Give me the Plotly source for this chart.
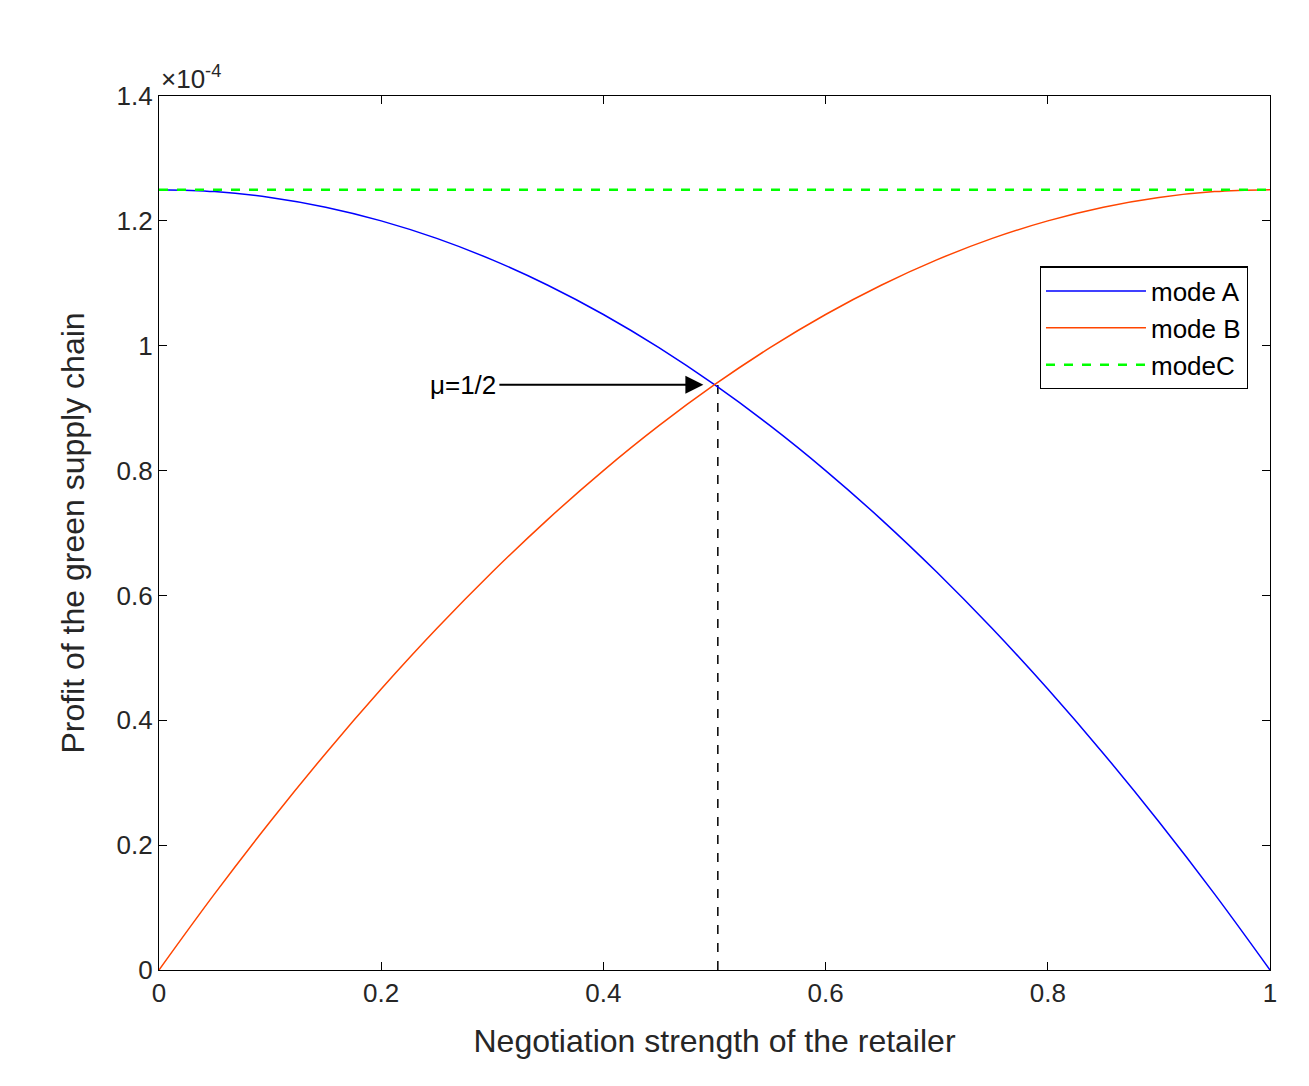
import plotly.graph_objects as go

x = [0,0.05,0.1,0.15,0.2,0.25,0.3,0.35,0.4,0.45,0.5,0.55,0.6,0.65,0.7,0.75,0.8,0.85,0.9,0.95,1.0]
mode_a = [1.25,1.2469,1.2375,1.2219,1.2,1.1719,1.1375,1.0969,1.05,0.9969,0.9375,0.8719,0.8,0.7219,0.6375,0.5469,0.45,0.3469,0.2375,0.1219,0]
mode_b = list(reversed(mode_a))
mode_c = [1.25]*len(x)
xticks = [0,0.2,0.4,0.6,0.8,1]
yticks = [0,0.2,0.4,0.6,0.8,1,1.2,1.4]

fig = go.Figure()
fig.add_trace(go.Scatter(x=[0.503,0.503], y=[0,0.9375], mode="lines",
    line=dict(color="black", width=1.5, dash="dash"), showlegend=False))
fig.add_trace(go.Scatter(x=x, y=mode_a, mode="lines", name="mode A", line=dict(color="#0000ff", width=1.5, shape="spline")))
fig.add_trace(go.Scatter(x=x, y=mode_b, mode="lines", name="mode B", line=dict(color="#ff4500", width=1.5, shape="spline")))
fig.add_trace(go.Scatter(x=x, y=mode_c, mode="lines", name="modeC", line=dict(color="#00ff00", width=2.5, dash="dash")))

axis = dict(showgrid=False, zeroline=False, showline=True, linecolor="black", linewidth=1.2,
            mirror="ticks", ticks="inside", ticklen=8, tickcolor="black",
            tickfont=dict(size=26, color="#262626"))
fig.update_layout(
    width=1309, height=1086, plot_bgcolor="white", paper_bgcolor="white",
    font=dict(family="Liberation Sans, Arial", color="#262626"),
    margin=dict(l=151, r=47, t=88, b=124),
    xaxis=dict(axis, range=[0,1], tickvals=xticks, ticktext=[f"{v:g}" for v in xticks],
               title=dict(text="Negotiation strength of the retailer", font=dict(size=32), standoff=22)),
    yaxis=dict(axis, range=[0,1.4], tickvals=yticks, ticktext=[f"{v:g}" for v in yticks],
               title=dict(text="Profit of the green supply chain", font=dict(size=32), standoff=22)),
    legend=dict(x=0.98, y=0.805, xanchor="right", yanchor="top", bordercolor="black", borderwidth=1.2,
                bgcolor="white", font=dict(size=26, color="black"), tracegroupgap=0, itemwidth=100),
    annotations=[
        dict(x=0, y=1.0, xref="paper", yref="paper", xanchor="left", yanchor="bottom", showarrow=False,
             text="×10<sup>-4</sup>", font=dict(size=26, color="#262626"), yshift=0),
        dict(x=0.49, y=0.9375, ax=0.305, ay=0.9375, xref="x", yref="y", axref="x", ayref="y",
             text="", showarrow=True, arrowhead=2, arrowsize=1.8, arrowwidth=2, arrowcolor="black"),
        dict(x=0.305, y=0.9375, xref="x", yref="y", xanchor="right", showarrow=False,
             text="μ=1/2", font=dict(size=26, color="black")),
    ],
)
fig.write_html("out.html")
